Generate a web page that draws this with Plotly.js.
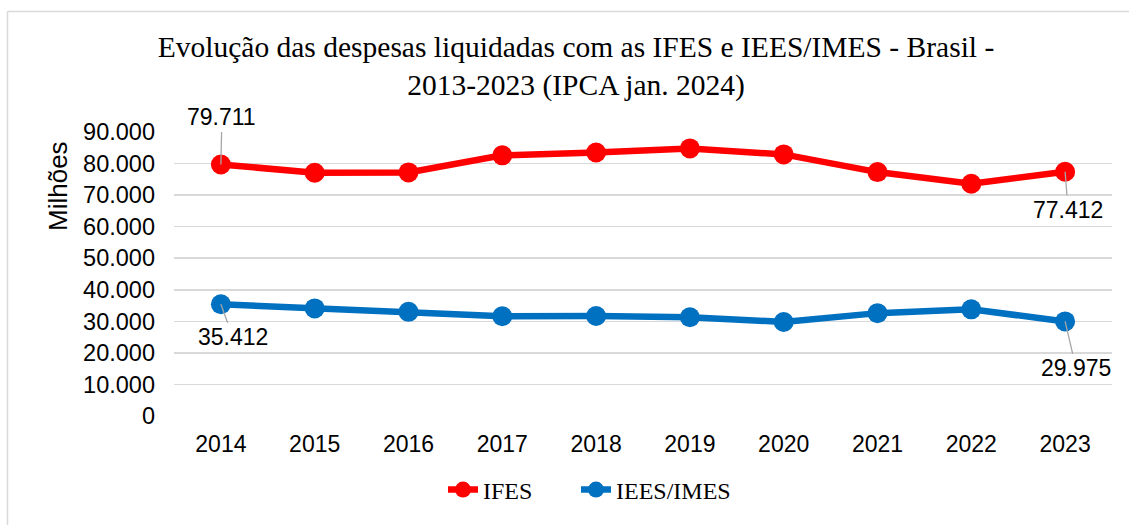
<!DOCTYPE html>
<html>
<head>
<meta charset="utf-8">
<script src="https://cdn.plot.ly/plotly-3.0.1.min.js"></script>
<style>html,body{margin:0;padding:0;background:#fff;}#chart{width:1129px;height:525px;}</style>
</head>
<body>
<div id="chart"></div>
<script>
const years = ['2014','2015','2016','2017','2018','2019','2020','2021','2022','2023'];
const ifes = [79711, 77100, 77200, 82600, 83500, 84800, 82900, 77300, 73600, 77412];
const iees = [35412, 34100, 33000, 31600, 31700, 31300, 29800, 32600, 33800, 29975];
const yTitle = 'Milhões';
const chartTitle = 'Evolução das despesas liquidadas com as IFES e IEES/IMES - Brasil -<br>2013-2023 (IPCA jan. 2024)';

const fmt = v => v.toLocaleString('pt-BR');
const sans = 'Liberation Sans, Arial, sans-serif';
const serif = 'Liberation Serif, Times New Roman, serif';

const traces = [
  {x: years, y: ifes, name: 'IFES', type: 'scatter', mode: 'lines+markers', legend: 'legend',
   line: {color: '#FF0000', width: 6.5}, marker: {color: '#FF0000', size: 20}},
  {x: years, y: iees, name: 'IEES/IMES', type: 'scatter', mode: 'lines+markers', legend: 'legend2',
   line: {color: '#0070C0', width: 6.5}, marker: {color: '#0070C0', size: 20}}
];

function lab(series, i, ax, ay) {
  return {x: i, y: series[i], text: fmt(series[i]), showarrow: true,
    arrowhead: 0, arrowwidth: 1.3, arrowcolor: '#A6A6A6', ax: ax, ay: ay,
    standoff: 0, font: {family: sans, size: 23, color: '#000'}};
}
const last = years.length - 1;
const px = v => (v - 174) / 938;
const py = v => (416 - v) / 284;
const legFont = {family: serif, size: 24, color: '#000'};

const layout = {
  width: 1129, height: 525,
  margin: {l: 174, r: 17, t: 132, b: 109},
  paper_bgcolor: '#fff', plot_bgcolor: '#fff',
  separators: ',.',
  showlegend: true,
  title: {text: chartTitle, font: {family: serif, size: 29.5, color: '#000'},
    x: 576/1129, xanchor: 'center', xref: 'container', y: 0.892, yanchor: 'middle', yref: 'container'},
  xaxis: {type: 'category', range: [-0.5, 9.5], showgrid: false, zeroline: false, showline: false,
    ticks: '', tickfont: {family: sans, size: 23, color: '#000'}, ticklabelstandoff: 12, fixedrange: true},
  yaxis: {range: [0, 90000], dtick: 10000, tickformat: ',d', showgrid: true, gridcolor: '#D9D9D9',
    gridwidth: 1.5, zeroline: false, showline: false, ticks: '',
    tickfont: {family: sans, size: 23.5, color: '#000'}, ticklabelstandoff: 18, fixedrange: true},
  legend: {orientation: 'h', x: px(443), xanchor: 'left', y: py(490), yanchor: 'middle',
    font: legFont, bgcolor: 'rgba(0,0,0,0)'},
  legend2: {orientation: 'h', x: px(576), xanchor: 'left', y: py(490), yanchor: 'middle',
    font: legFont, bgcolor: 'rgba(0,0,0,0)'},
  annotations: [
    lab(ifes, 0, 1, -47),
    lab(iees, 0, 12, 33),
    lab(ifes, last, 3, 38),
    lab(iees, last, 11, 47),
    {xref: 'paper', yref: 'paper', x: px(58), y: py(186), text: yTitle, textangle: -90,
     showarrow: false, xanchor: 'center', yanchor: 'middle', font: {family: sans, size: 26, color: '#000'}}
  ],
  shapes: [
    {type: 'line', xref: 'paper', yref: 'paper', x0: px(7.5), x1: px(1140),
     y0: py(11.5), y1: py(11.5), line: {color: '#D9D9D9', width: 1.5}},
    {type: 'line', xref: 'paper', yref: 'paper', x0: px(7.5), x1: px(7.5),
     y0: py(11.5), y1: py(540), line: {color: '#D9D9D9', width: 1.5}}
  ]
};

Plotly.newPlot('chart', traces, layout, {displayModeBar: false, staticPlot: true});
</script>
</body>
</html>
